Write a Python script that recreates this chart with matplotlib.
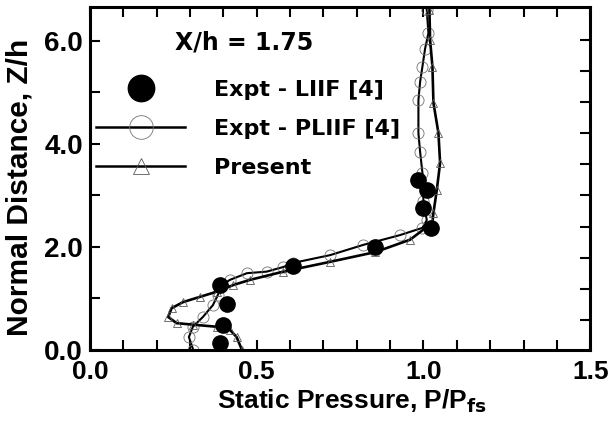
import numpy as np
import matplotlib
matplotlib.use('Agg')
import matplotlib.pyplot as plt
from matplotlib.lines import Line2D

# Expt - LIIF [4] (filled circles)
liif_x = [0.39, 0.41, 0.40, 0.39, 0.61, 0.856, 0.985, 1.01, 1.00, 1.024]
liif_z = [1.26, 0.89, 0.49, 0.14, 1.63, 2.00, 3.30, 3.11, 2.75, 2.37]

# Expt - PLIIF [4] (line with open circles)
pliif_x = [0.31, 0.297, 0.309, 0.339, 0.369, 0.384, 0.396, 0.42, 0.471, 0.53, 0.58, 0.61,
           0.72, 0.82, 0.93, 0.997, 1.01, 1.00, 0.997, 0.99, 0.985, 0.985, 0.99, 0.997, 1.005, 1.015, 1.01]
pliif_z = [0.0, 0.25, 0.45, 0.64, 0.87, 1.07, 1.26, 1.36, 1.49, 1.52, 1.61, 1.69,
           1.84, 2.04, 2.23, 2.37, 2.52, 2.9, 3.44, 3.85, 4.21, 4.85, 5.2, 5.5, 5.85, 6.15, 6.6]

# Present (line with open triangles)
pres_x = [0.456, 0.44, 0.42, 0.38, 0.31, 0.26, 0.235, 0.245, 0.28, 0.33, 0.38, 0.43, 0.48, 0.58,
          0.72, 0.856, 0.96, 1.027, 1.03, 1.04, 1.05, 1.045, 1.03, 1.027, 1.02, 1.018]
pres_z = [0.0, 0.25, 0.39, 0.45, 0.49, 0.52, 0.64, 0.81, 0.93, 1.03, 1.13, 1.26, 1.36, 1.52,
          1.71, 1.90, 2.14, 2.47, 2.66, 3.1, 3.63, 4.21, 4.8, 5.5, 6.02, 6.6]

xticks = [0.0, 0.5, 1.0, 1.5]
yticks = [0.0, 2.0, 4.0, 6.0]

tickfont = 'Liberation Sans'

fig = plt.figure(figsize=(6.11, 4.32), dpi=100)
ax = fig.add_axes([0.147, 0.19, 0.819, 0.794])

ax.plot(pliif_x, pliif_z, '-', color='black', lw=1.5, marker='o', ms=8,
        mfc='none', mec='0.45', mew=0.6)
ax.plot(pres_x, pres_z, '-', color='black', lw=1.9, marker='^', ms=6,
        mfc='none', mec='0.35', mew=0.6)
ax.plot(liif_x, liif_z, 'o', color='black', ms=11, ls='none')

ax.set_xlim(0, 1.5)
ax.set_ylim(0, 6.66)
ax.set_xticks(xticks)
ax.set_xticks(np.arange(0, 1.51, 0.1), minor=True)
ax.set_yticks(yticks)
ax.set_yticks(np.arange(0, 6.6, 1.0), minor=True)
ax.set_xticklabels(['%.1f' % v for v in xticks], fontfamily=tickfont, fontweight='bold', fontsize=19)
ax.set_yticklabels(['%.1f' % v for v in yticks], fontfamily=tickfont, fontweight='bold', fontsize=20)
ax.tick_params(which='both', direction='in', top=True, right=False, width=1.5, length=7)
ax.tick_params(axis='x', which='major', pad=7)
ax.tick_params(axis='y', which='major', pad=5)
for s in ax.spines.values():
    s.set_linewidth(2.2)

# right-hand ticks
ax2 = ax.twinx()
ax2.set_ylim(0, 6.66)
ax2.set_yticks(np.arange(0.58, 6.6, 0.605))
ax2.set_yticklabels([])
ax2.tick_params(direction='in', length=7, width=1.5)

ax.set_xlabel('Static Pressure, P/P$_{\\mathbf{fs}}$', fontfamily=tickfont, fontweight='bold',
              fontsize=19)
ax.xaxis.set_label_coords(0.524, -0.11)
ax.set_ylabel('Normal Distance, Z/h', fontfamily=tickfont, fontweight='bold', fontsize=21.5)
ax.yaxis.set_label_coords(-0.112, 0.475)

ax.text(0.171, 0.895, 'X/h = 1.75', transform=ax.transAxes, fontsize=17,
        fontweight='bold', family='DejaVu Sans', va='center')

handles = [
    Line2D([], [], ls='none', marker='o', color='black', ms=19),
    Line2D([], [], ls='-', color='black', lw=1.8, marker='o', ms=17,
           mfc='none', mec='0.45', mew=0.6),
    Line2D([], [], ls='-', color='black', lw=1.8, marker='^', ms=12,
           mfc='none', mec='0.35', mew=0.6),
]
labels = ['Expt - LIIF [4]', 'Expt - PLIIF [4]', 'Present']
ax.legend(handles, labels, loc='upper left', bbox_to_anchor=(0.0, 0.806), frameon=False,
          prop={'family': 'DejaVu Sans', 'weight': 'bold', 'size': 16},
          handlelength=4.0, handletextpad=1.3, labelspacing=0.85, borderaxespad=0.2,
          borderpad=0.1)

fig.savefig('out.png', dpi=100)
